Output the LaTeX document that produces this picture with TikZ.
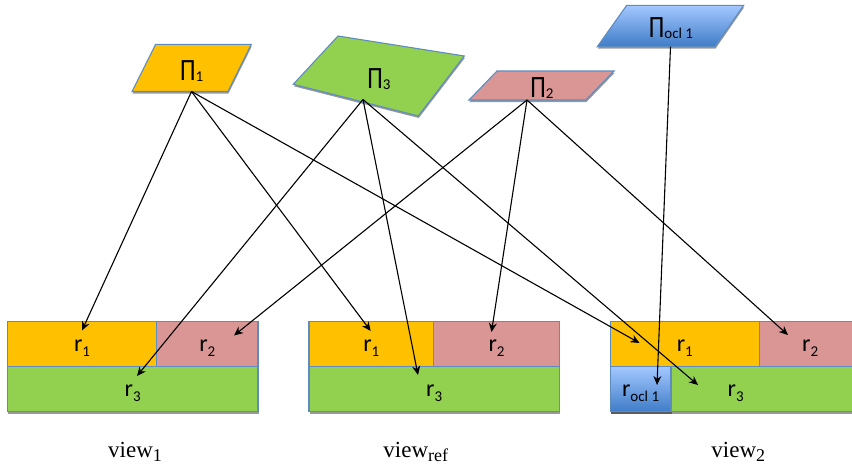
\documentclass[tikz,border=0pt]{standalone}
\usepackage{fontspec}
\setmainfont{Carlito}
\newfontfamily\viewfont{Liberation Serif}
\usetikzlibrary{arrows.meta,shadows}
\definecolor{cOrange}{HTML}{FFC000}
\definecolor{cGreen}{HTML}{92D050}
\definecolor{cPink}{HTML}{D99694}
\definecolor{cEdge}{HTML}{5F8CC0}
\definecolor{cBlueTop}{HTML}{A3C8FF}
\definecolor{cBlueBot}{HTML}{3F7CC8}
\newcommand{\lblr}[1]{\raisebox{-7.6pt}[0pt][0pt]{\fontsize{24}{24}\selectfont r\raisebox{-5pt}{\fontsize{15}{15}\selectfont #1}}}
\newcommand{\lblp}[1]{{\fontsize{31}{31}\selectfont\scalebox{.8}[1]{Π}\raisebox{-1.5pt}{\fontsize{15}{15}\selectfont #1}}}
\newcommand{\lblv}[1]{{\viewfont\fontsize{23}{23}\selectfont view\raisebox{-3.5pt}{\fontsize{18}{18}\selectfont #1}}}
\tikzset{
  x=1pt,y=-1pt,
  softshadow/.style={drop shadow={shadow xshift=.5pt,shadow yshift=-2pt,opacity=.4,fill=black}},
  shapeedge/.style={draw=cEdge,line width=1.1pt,line join=miter,softshadow},
  rbox/.style={shapeedge,inner sep=0pt,outer sep=0pt,anchor=north west,text=black},
  plane/.style={shapeedge},
  blueshade/.style={top color=cBlueTop,bottom color=cBlueBot},
  conn/.style={-{Stealth[length=9pt,width=8pt]},draw=black,line width=1.1pt},
  lab/.style={inner sep=0pt,text=black,anchor=base},
}
\begin{document}
\begin{tikzpicture}
\useasboundingbox (0,0) rectangle (852,471);
% planes
\path[plane,fill=cOrange] (132,91.5) -- (155.7,44.3) -- (251.3,44.3) -- (228,91.5) -- cycle;
\path[plane,fill=cGreen] (293.3,84.3) -- (338,36) -- (464.3,56) -- (418.3,116) -- cycle;
\path[plane,fill=cPink] (469,100) -- (497,71) -- (614,71) -- (586,100) -- cycle;
\path[plane,blueshade] (597.3,46.7) -- (626.7,5.3) -- (743.7,5.3) -- (715,46.7) -- cycle;
\node[lab] (P1) at (191.7,80) {\lblp{1}};
\node[lab] (P3) at (379,88.3) {\lblp{3}};
\node[lab] (P2) at (542,97) {\lblp{2}};
\node[lab] (Pocl) at (671,37.3) {\lblp{ocl 1}};
% view 1
\node[rbox,fill=cOrange,minimum width=149.4pt,minimum height=45pt] (a1) at (7.3,321.7) {\lblr{1}};
\node[rbox,fill=cPink,minimum width=101.3pt,minimum height=45pt] (a2) at (156.7,321.7) {\lblr{2}};
\node[rbox,fill=cGreen,minimum width=250.7pt,minimum height=45pt] (a3) at (7.3,366.7) {\lblr{3}};
% view ref
\node[rbox,fill=cOrange,minimum width=124.7pt,minimum height=45pt] (b1) at (309,321.7) {\lblr{1}};
\node[rbox,fill=cPink,minimum width=125.6pt,minimum height=45pt] (b2) at (433.7,321.7) {\lblr{2}};
\node[rbox,fill=cGreen,minimum width=250.3pt,minimum height=45pt] (b3) at (309,366.7) {\lblr{3}};
% view 2
\node[rbox,fill=cOrange,minimum width=149pt,minimum height=45pt] (c1) at (610.3,321.7) {\lblr{1}};
\node[rbox,fill=cPink,minimum width=101.7pt,minimum height=45pt] (c2) at (759.3,321.7) {\lblr{2}};
\node[rbox,fill=cGreen,minimum width=250.7pt,minimum height=45pt] (c3) at (610.3,366.7) {\lblr{3}};
\node[rbox,blueshade,minimum width=60.7pt,minimum height=45pt] (c4) at (610.3,366.7) {\lblr{ocl 1}};
% captions
\node[lab] (v1) at (135,457.7) {\lblv{1}};
\node[lab] (vr) at (415.8,457.7) {\lblv{ref}};
\node[lab] (v2) at (738.3,457.7) {\lblv{2}};
% connector ends
\coordinate (s1) at (191.5,91.5);
\coordinate (s3) at (363,99.5);
\coordinate (s2) at (527,100);
\coordinate (s4) at (670.5,46.7);
\coordinate (ta1) at (82,330.5);
\coordinate (ta2) at (234,335.5);
\coordinate (ta3) at (137,376);
\coordinate (tb1) at (370.7,331);
\coordinate (tb2) at (491.5,332);
\coordinate (tb3) at (418,375);
\coordinate (tc1) at (639.5,343);
\coordinate (tc2) at (788,335);
\coordinate (tc3) at (698,385);
\coordinate (tc4) at (657,385);
% connectors
\draw[conn] (s1) -- (ta1);
\draw[conn] (s1) -- (tb1);
\draw[conn] (s1) -- (tc1);
\draw[conn] (s3) -- (ta3);
\draw[conn] (s3) -- (tb3);
\draw[conn] (s3) -- (tc3);
\draw[conn] (s2) -- (ta2);
\draw[conn] (s2) -- (tb2);
\draw[conn] (s2) -- (tc2);
\draw[conn] (s4) -- (tc4);
\end{tikzpicture}
\end{document}
